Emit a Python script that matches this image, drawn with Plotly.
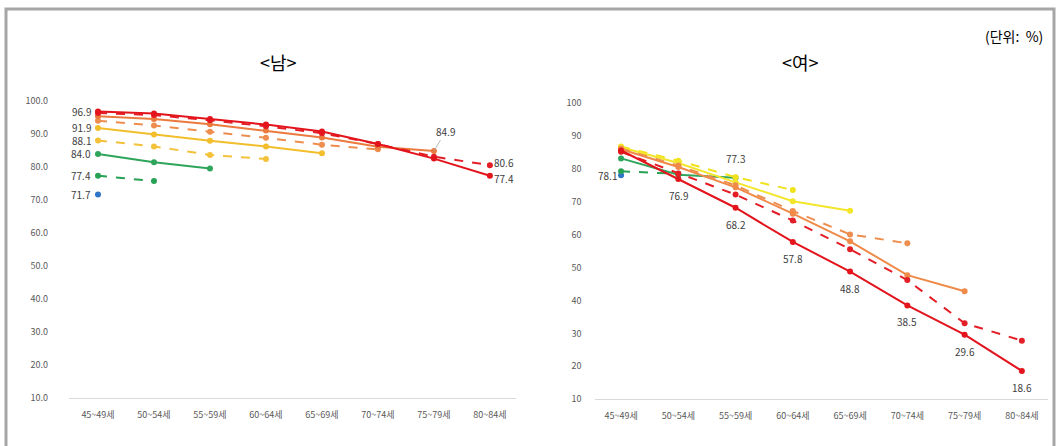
import plotly.graph_objects as go

W, H = 1059, 446
FONT = "Noto Sans CJK KR"

age_groups = ["45~49세", "50~54세", "55~59세", "60~64세",
              "65~69세", "70~74세", "75~79세", "80~84세"]

# 남성: 출생 코호트별 경제활동참가율 (각 코호트는 45~49세부터 관측)
male_c1 = [71.7]
male_c2 = [77.4, 75.8]
male_c3 = [84.0, 81.5, 79.6]
male_c4 = [88.1, 86.3, 83.7, 82.5]
male_c5 = [91.9, 89.9, 88.0, 86.3, 84.2]
male_c6 = [94.1, 92.6, 90.7, 88.9, 86.8, 85.4]
male_c7 = [95.4, 94.6, 93.0, 91.1, 89.0, 86.2, 84.9]
male_c8 = [96.4, 95.8, 94.2, 92.4, 90.3, 87.0, 83.2, 80.6]
male_c9 = [96.9, 96.3, 94.6, 92.9, 90.8, 87.0, 82.6, 77.4]

# 여성
female_c1 = [78.1]
female_c2 = [79.3, 78.5]
female_c3 = [83.2, 78.2, 77.3]
female_c4 = [86.8, 82.5, 77.5, 73.6]
female_c5 = [86.6, 81.8, 75.9, 70.2, 67.3]
female_c6 = [86.2, 81.0, 75.0, 67.2, 60.1, 57.4]
female_c7 = [86.0, 80.6, 74.4, 66.4, 58.0, 47.7, 42.8]
female_c8 = [85.2, 78.6, 72.2, 64.3, 55.6, 46.2, 33.1, 27.8]
female_c9 = [85.6, 76.9, 68.2, 57.8, 48.8, 38.5, 29.6, 18.6]

male_y_ticks = [10, 20, 30, 40, 50, 60, 70, 80, 90, 100]
female_y_ticks = [10, 20, 30, 40, 50, 60, 70, 80, 90, 100]

male_series = [male_c1, male_c2, male_c3, male_c4, male_c5,
               male_c6, male_c7, male_c8, male_c9]
female_series = [female_c1, female_c2, female_c3, female_c4, female_c5,
                 female_c6, female_c7, female_c8, female_c9]

male_colors = ["#2E75C8", "#27A254", "#2EA55A", "#F3C23A", "#F2BE2C",
               "#EE8E4E", "#EB7A3E", "#E41E26", "#E3141C"]
female_colors = ["#2E75C8", "#27A254", "#2EA55A", "#F1E21C", "#F3E62A",
                 "#EE8E4E", "#EF8A48", "#E41E26", "#E3141C"]
dashes = ["solid", "dash", "solid", "dash", "solid",
          "dash", "solid", "dash", "solid"]


def pad(vals):
    return list(vals) + [None] * (len(age_groups) - len(vals))


def px_x(p):
    return p / W


def px_y(p):
    return 1 - p / H


fig = go.Figure()

for vals, col, dsh in zip(male_series, male_colors, dashes):
    fig.add_trace(go.Scatter(
        x=age_groups, y=pad(vals), xaxis="x", yaxis="y",
        mode="lines+markers",
        line=dict(color=col, width=2, dash=dsh),
        marker=dict(color=col, size=6),
        showlegend=False))

for vals, col, dsh in zip(female_series, female_colors, dashes):
    fig.add_trace(go.Scatter(
        x=age_groups, y=pad(vals), xaxis="x2", yaxis="y2",
        mode="lines+markers",
        line=dict(color=col, width=2, dash=dsh),
        marker=dict(color=col, size=6),
        showlegend=False))

label_font = dict(family=FONT, size=10, color="#404040")
annotations = []


def value_label(xref, yref, series, idx, xshift=0, yshift=0,
                xanchor="center", yanchor="middle"):
    annotations.append(dict(
        x=age_groups[idx], y=series[idx], xref=xref, yref=yref,
        text=f"{series[idx]:.1f}", showarrow=False, font=label_font,
        xanchor=xanchor, yanchor=yanchor, xshift=xshift, yshift=yshift))


# 남성 45~49세 시작값
for s in [male_c9, male_c5, male_c4, male_c3, male_c2, male_c1]:
    value_label("x", "y", s, 0, xshift=-5, xanchor="right")
# 남성 끝값
annotations.append(dict(
    x=age_groups[6], y=male_c7[6], xref="x", yref="y",
    text=f"{male_c7[6]:.1f}", showarrow=True, arrowhead=0, arrowwidth=0.8,
    arrowcolor="#A6A6A6", ax=12, ay=-20, font=label_font))
value_label("x", "y", male_c8, 7, xshift=2, yshift=3, xanchor="left")
value_label("x", "y", male_c9, 7, xshift=2, yshift=-3, xanchor="left")

# 여성
value_label("x2", "y2", female_c1, 0, xshift=-2, xanchor="right")
value_label("x2", "y2", female_c3, 2, yshift=10, yanchor="bottom")
for i in range(1, 8):
    value_label("x2", "y2", female_c9, i, yshift=-7, yanchor="top")

# 제목
title_font = dict(family=FONT, size=18, color="#000000")
annotations.append(dict(x=px_x(278), y=px_y(57), xref="paper", yref="paper",
                        text="&lt;남&gt;", showarrow=False, font=title_font,
                        xanchor="center", yanchor="middle"))
annotations.append(dict(x=px_x(800), y=px_y(57), xref="paper", yref="paper",
                        text="&lt;여&gt;", showarrow=False, font=title_font,
                        xanchor="center", yanchor="middle"))
annotations.append(dict(x=px_x(1045), y=px_y(30), xref="paper", yref="paper",
                        text="(단위:&nbsp;&nbsp;%)", showarrow=False,
                        xanchor="right", yanchor="middle",
                        font=dict(family=FONT, size=14, color="#000000")))

tick_font = dict(family=FONT, size=9, color="#595959")

xaxis_common = dict(type="category", showgrid=False, zeroline=False,
                    showline=True, linecolor="#D9D9D9", linewidth=1,
                    ticks="", tickfont=tick_font, ticklabelstandoff=8,
                    fixedrange=True)

fig.update_layout(
    width=W, height=H,
    margin=dict(l=0, r=0, t=0, b=0),
    paper_bgcolor="white", plot_bgcolor="white",
    xaxis=dict(domain=[px_x(69), px_x(516)], anchor="y", **xaxis_common),
    xaxis2=dict(domain=[px_x(594.6), px_x(1048.3)], anchor="y2", **xaxis_common),
    yaxis=dict(domain=[px_y(403), px_y(97)], range=[10, 100], anchor="x",
               tickvals=male_y_ticks,
               ticktext=[f"{v:.1f}" for v in male_y_ticks],
               showgrid=False, zeroline=False, showline=False, ticks="",
               tickfont=tick_font, ticklabelstandoff=20),
    yaxis2=dict(domain=[px_y(404), px_y(99)], range=[10, 100], anchor="x2",
                tickvals=female_y_ticks,
                ticktext=[str(v) for v in female_y_ticks],
                showgrid=False, zeroline=False, showline=False, ticks="",
                tickfont=tick_font, ticklabelstandoff=12),
    annotations=annotations,
    shapes=[dict(type="rect", xref="paper", yref="paper",
                 x0=px_x(6), x1=px_x(1054), y0=-0.05, y1=px_y(2),
                 line=dict(color="#A6A6A6", width=3))],
)

fig.write_html("out.html")
